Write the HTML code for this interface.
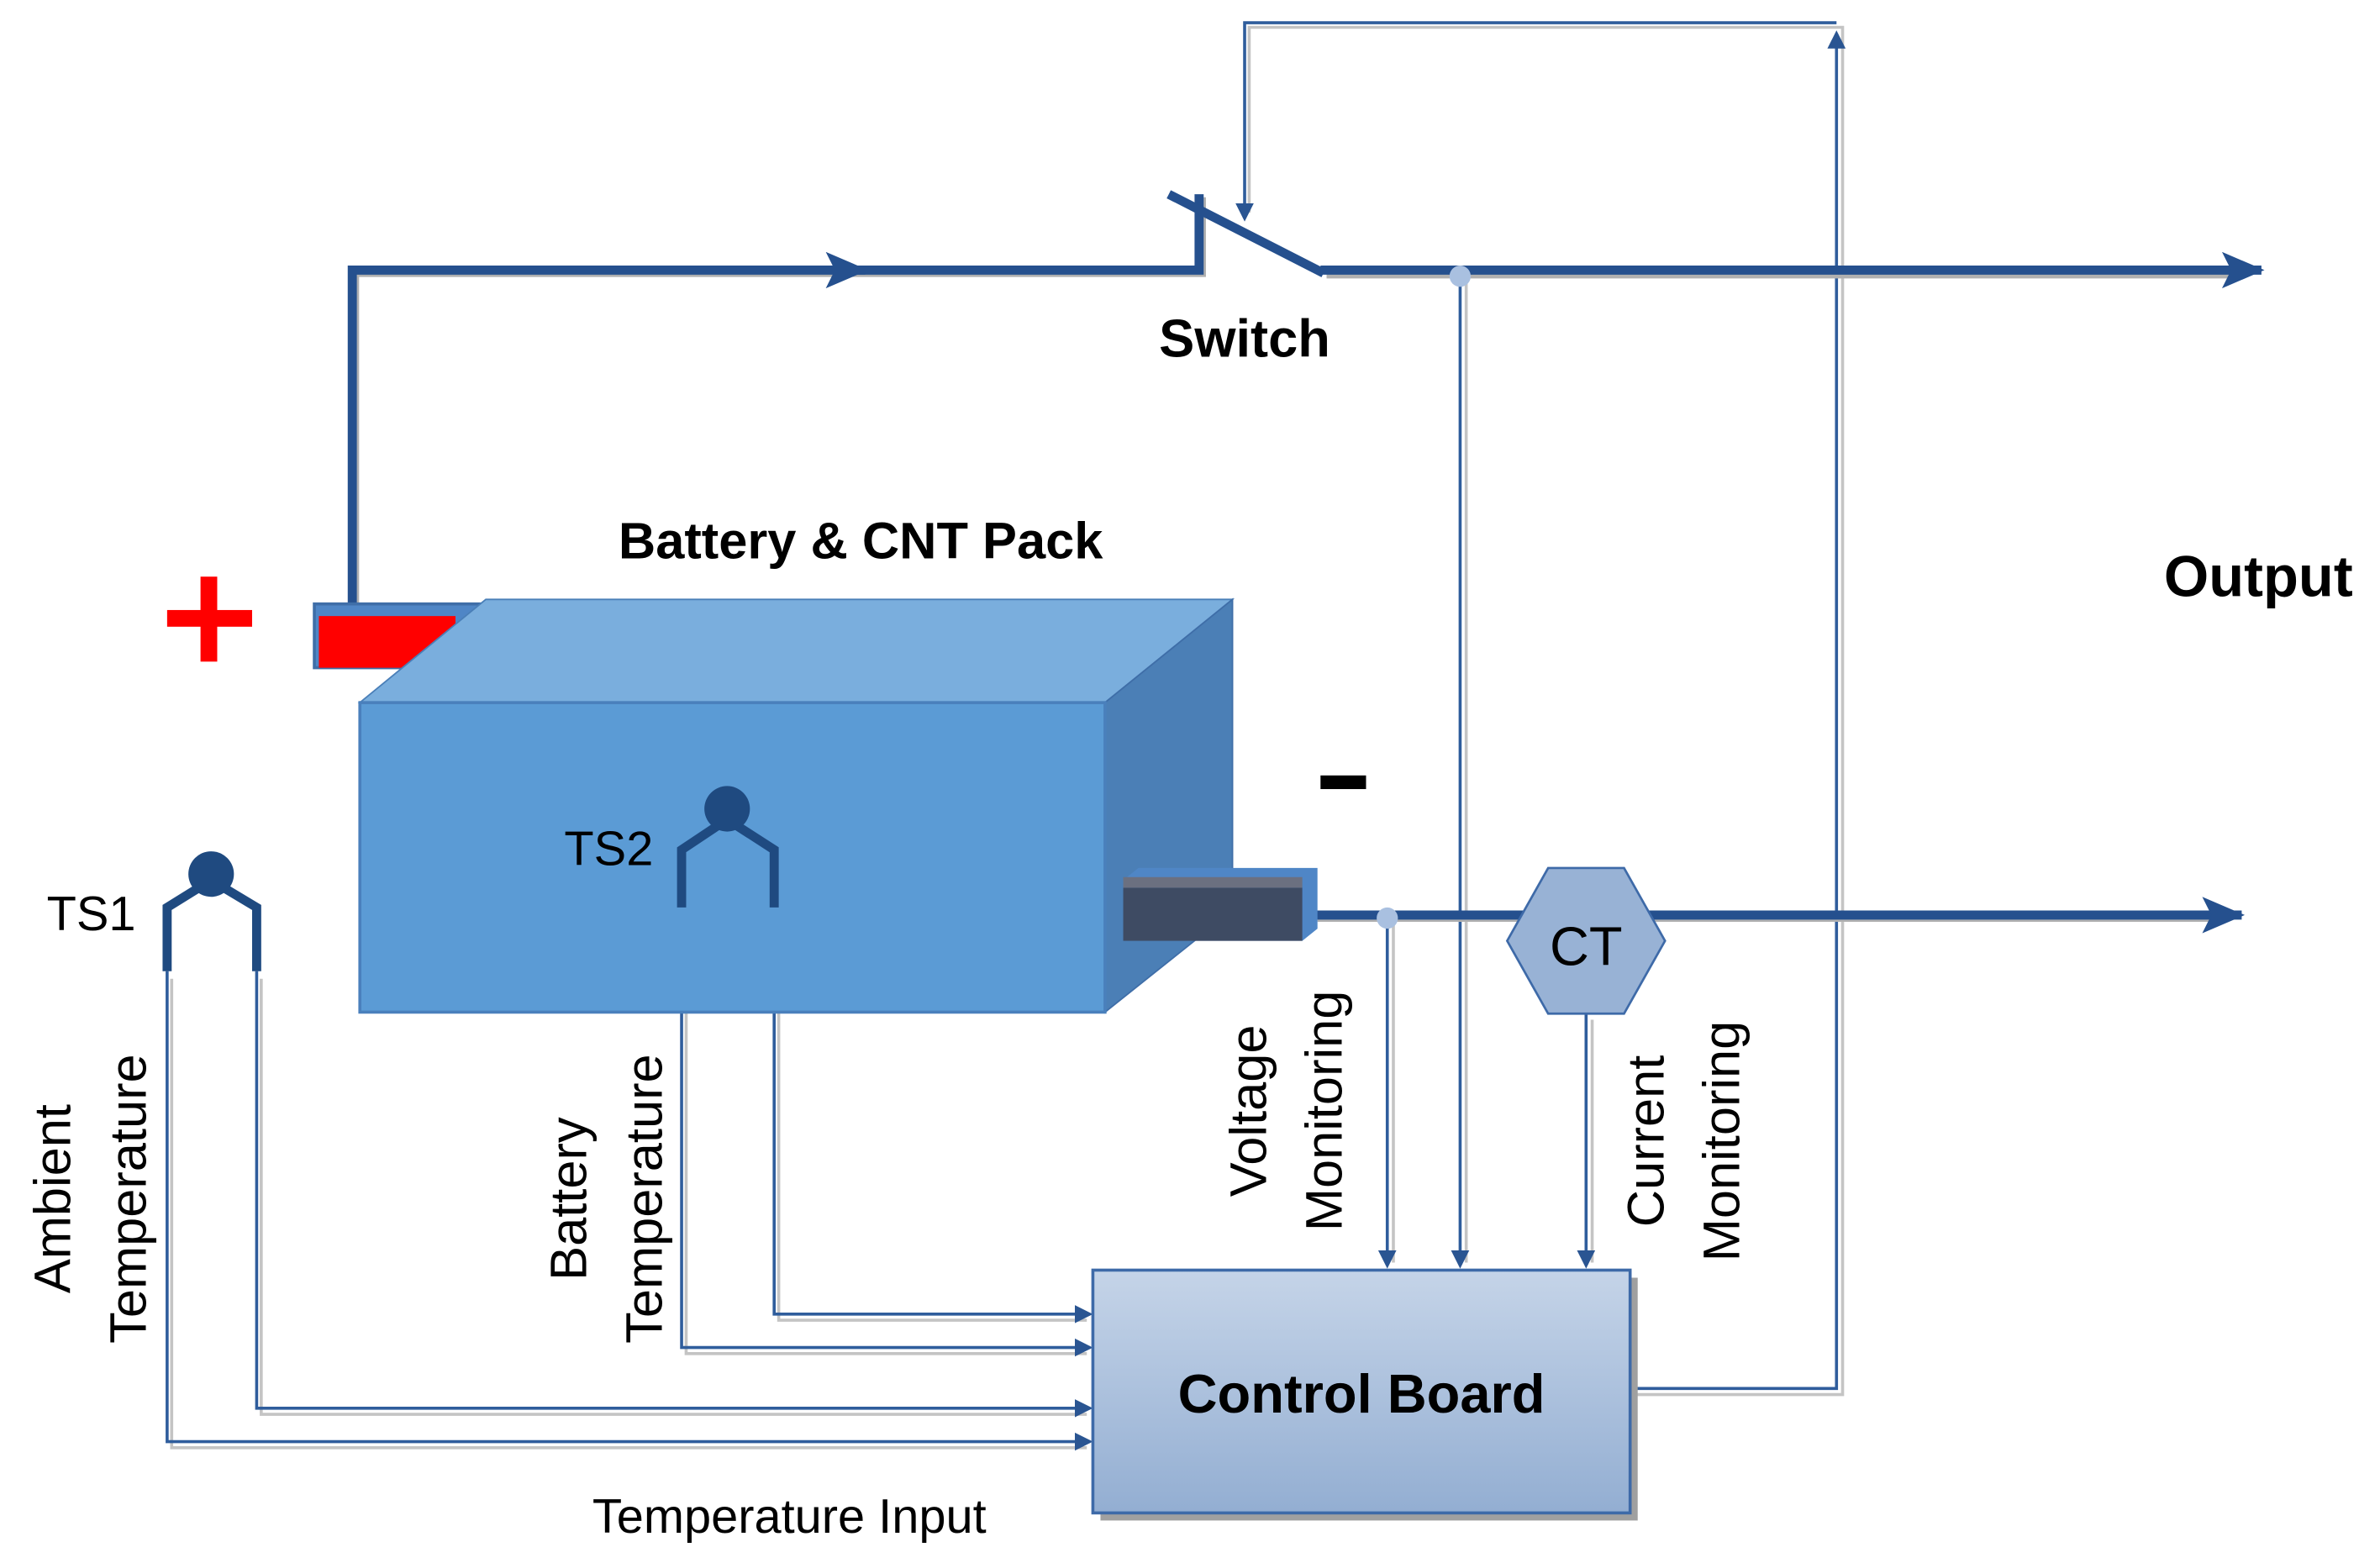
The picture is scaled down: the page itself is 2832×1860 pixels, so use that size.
<!DOCTYPE html>
<html><head><meta charset="utf-8">
<style>
html,body{margin:0;padding:0;background:#fff;}
svg{display:block;}
text{font-family:"Liberation Sans",sans-serif;fill:#000;}
</style></head>
<body>
<svg width="2832" height="1860" viewBox="0 0 1568 1030" xmlns="http://www.w3.org/2000/svg">
<defs>
<marker id="ab" markerWidth="12" markerHeight="12" refX="10" refY="6" orient="auto" markerUnits="userSpaceOnUse">
<path d="M0,0 L12,6 L0,12 Z" fill="#2a5592"/></marker>
<marker id="abig" markerWidth="30" markerHeight="24" refX="26" refY="12" orient="auto" markerUnits="userSpaceOnUse">
<path d="M0,0 L28,12 L0,24 L6,12 Z" fill="#25508e"/></marker>
<linearGradient id="cb" x1="0" y1="0" x2="0" y2="1">
<stop offset="0" stop-color="#c5d4e8"/><stop offset="1" stop-color="#93aed2"/></linearGradient>
</defs>

<g fill="none" stroke="#c4c4c4" stroke-width="2">
<polyline points="1077,919 1214,919 1214,18 823,18 823,140"/>
<line x1="966" y1="186" x2="966" y2="832"/>
<line x1="918" y1="608" x2="918" y2="832"/>
<line x1="1049" y1="672" x2="1049" y2="832"/>
<polyline points="113,645 113,954 716,954"/>
<polyline points="172,645 172,932 716,932"/>
<polyline points="452,600 452,892 716,892"/>
<polyline points="513,600 513,870 716,870"/>
</g>
<g fill="none" stroke="#2f5d9c" stroke-width="2">
<polyline points="1075,915 1210,915 1210,22" marker-end="url(#ab)"/>
<polyline points="1210,15 820,15 820,144" marker-end="url(#ab)"/>
<line x1="962" y1="182" x2="962" y2="834" marker-end="url(#ab)"/>
<line x1="914" y1="604" x2="914" y2="834" marker-end="url(#ab)"/>
<line x1="1045" y1="668" x2="1045" y2="834" marker-end="url(#ab)"/>
<polyline points="110,640 110,950 718,950" marker-end="url(#ab)"/>
<polyline points="169,640 169,928 718,928" marker-end="url(#ab)"/>
<polyline points="449,598 449,888 718,888" marker-end="url(#ab)"/>
<polyline points="510,598 510,866 718,866" marker-end="url(#ab)"/>
</g>

<g fill="none" stroke="#b0b0b0" stroke-width="5" stroke-linejoin="miter">
<polyline points="234,402 234,180 792,180 792,130"/>
<polyline points="874,181 1470,181"/>
<line x1="868" y1="605" x2="1460" y2="605"/>
</g>
<g fill="none" stroke="#25508e" stroke-width="6" stroke-linejoin="miter">
<polyline points="232,400 232,178 570,178" marker-end="url(#abig)"/>
<polyline points="560,178 790,178 790,128"/>
<line x1="770" y1="128" x2="872" y2="180"/>
<line x1="870" y1="178" x2="1490" y2="178" marker-end="url(#abig)"/>
<line x1="862" y1="603" x2="1477" y2="603" marker-end="url(#abig)"/>
</g>
<circle cx="962" cy="182" r="7" fill="#a9c0e0"/>
<circle cx="914" cy="605" r="7" fill="#a9c0e0"/>

<polygon points="207,398 320,398 320,440 207,440" fill="#4f86c6" stroke="#3f6ea8" stroke-width="2"/>
<polygon points="210,406 300,406 300,440 210,440" fill="#ff0000"/>
<polygon points="237,463 320,395 812,395 728,463" fill="#7aaedd" stroke="#4a7fb8" stroke-width="1"/>
<polygon points="728,463 812,395 812,600 728,667" fill="#4b7fb6" stroke="#3f6ea8" stroke-width="1"/>
<rect x="237" y="463" width="491" height="204" fill="#5b9bd5" stroke="#4a80bc" stroke-width="2"/>
<polygon points="740,580 750,572 868,572 868,612 858,620 740,620" fill="#4f86c6"/>
<rect x="740" y="585" width="118" height="35" fill="#3e4b63"/>
<rect x="740" y="578" width="118" height="7" fill="#6b7080"/>

<rect x="110" y="402" width="56" height="11" fill="#ff0000"/>
<rect x="132" y="380" width="11" height="56" fill="#ff0000"/>
<rect x="870" y="511" width="30" height="9" fill="#000"/>

<g fill="none" stroke="#1f4a80" stroke-width="6">
<polyline points="110,640 110,598 139,580 169,598 169,640"/>
<polyline points="449,598 449,560 479,540 510,560 510,598"/>
</g>
<circle cx="139" cy="576" r="15" fill="#1f4a80"/>
<circle cx="479" cy="533" r="15" fill="#1f4a80"/>

<polygon points="1020,572 1070,572 1097,620 1070,668 1020,668 993,620" fill="#98b2d5" stroke="#3e6aa8" stroke-width="1.5"/>
<text x="1045" y="636" font-size="36" text-anchor="middle">CT</text>

<rect x="725" y="842" width="354" height="160" fill="#a0a0a0"/>
<rect x="720" y="837" width="354" height="160" fill="url(#cb)" stroke="#3e6aa8" stroke-width="2"/>
<text x="897" y="931" font-size="36" font-weight="bold" text-anchor="middle">Control Board</text>

<text x="820" y="235" font-size="35" font-weight="bold" text-anchor="middle">Switch</text>
<text x="567" y="368" font-size="34" font-weight="bold" text-anchor="middle">Battery &amp; CNT Pack</text>
<text x="1488" y="393" font-size="38" font-weight="bold" text-anchor="middle">Output</text>
<text x="60" y="613" font-size="32" text-anchor="middle">TS1</text>
<text x="401" y="570" font-size="32" text-anchor="middle">TS2</text>
<text x="520" y="1010" font-size="32" text-anchor="middle">Temperature Input</text>
<g font-size="34" text-anchor="middle">
<text transform="translate(46,790) rotate(-90)">Ambient</text>
<text transform="translate(96,790) rotate(-90)">Temperature</text>
<text transform="translate(386,790) rotate(-90)">Battery</text>
<text transform="translate(436,790) rotate(-90)">Temperature</text>
<text transform="translate(834,732) rotate(-90)">Voltage</text>
<text transform="translate(884,732) rotate(-90)">Monitoring</text>
<text transform="translate(1096,752) rotate(-90)">Current</text>
<text transform="translate(1146,752) rotate(-90)">Monitoring</text>
</g>
</svg>
</body></html>
